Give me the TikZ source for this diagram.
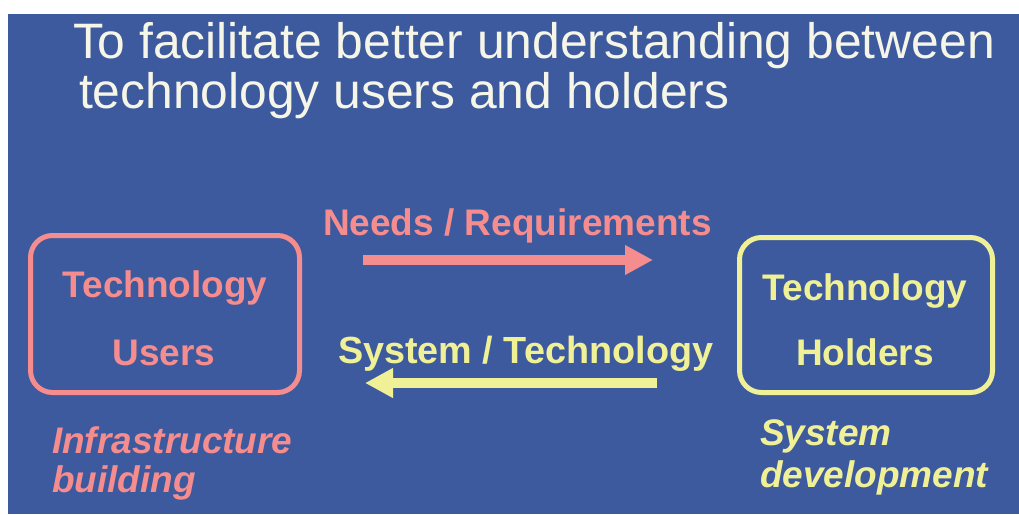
\documentclass[tikz,border=0pt]{standalone}
\usepackage{fontspec}
\setmainfont{Liberation Sans}
\usetikzlibrary{arrows.meta}
\definecolor{bgblue}{RGB}{62,90,158}
\definecolor{pinkc}{RGB}{245,140,142}
\definecolor{yelc}{RGB}{240,240,150}
\definecolor{titlec}{RGB}{246,246,232}
\begin{document}
\begin{tikzpicture}[x=1pt,y=1pt,
  titletext/.style={anchor=base west,inner sep=0pt,outer sep=0pt,text=titlec,font=\fontsize{49.8}{52}\selectfont},
  labeltext/.style={inner sep=0pt,outer sep=0pt,font=\bfseries\fontsize{37}{40}\selectfont},
  roletext/.style={anchor=base west,inner sep=0pt,outer sep=0pt,font=\bfseries\itshape\fontsize{37}{40}\selectfont},
  actor/.style={draw,line width=5pt,rounded corners=22pt,inner sep=0pt},
  flow/.style={line width=10pt,-{Triangle[length=28pt,width=28pt]}}]
\useasboundingbox (0,0) rectangle (1019,-514);
\fill[white] (0,0) rectangle (1019,-514);
\fill[bgblue] (8,-14) rectangle (1019,-514);
% title
\node[titletext] (title1) at (73,-58) {To facilitate better understanding between};
\node[titletext] (title2) at (79,-108) {technology users and holders};
% boxes
\node[actor,draw=pinkc,minimum width=269pt,minimum height=157pt] (users) at (165,-314) {};
\node[actor,draw=yelc,minimum width=253pt,minimum height=155pt] (holders) at (866,-315) {};
\node[labeltext,anchor=base,text=pinkc] (u1) at (165,-297) {Technology};
\node[labeltext,anchor=base,text=pinkc] (u2) at (164,-365) {Users};
\node[labeltext,anchor=base,text=yelc] (h1) at (865,-300) {Technology};
\node[labeltext,anchor=base,text=yelc] (h2) at (865,-365) {Holders};
% flows
\node[labeltext,anchor=base west,text=pinkc] (needs) at (323,-235) {Needs / Requirements};
\node[labeltext,anchor=base west,text=yelc,font=\bfseries\fontsize{37.8}{40}\selectfont] (system) at (338,-363) {System / Technology};
\coordinate (n0) at (363,-260);
\coordinate (n1) at (653,-260);
\coordinate (s0) at (657,-383);
\coordinate (s1) at (365,-383);
\draw[flow,draw=pinkc,color=pinkc] (n0) -- (n1);
\draw[flow,draw=yelc,color=yelc] (s0) -- (s1);
% roles
\node[roletext,text=pinkc] (infra1) at (52,-453) {Infrastructure};
\node[roletext,text=pinkc] (infra2) at (52,-492) {building};
\node[roletext,text=yelc] (dev1) at (760,-445) {System};
\node[roletext,text=yelc] (dev2) at (760,-487) {development};
\end{tikzpicture}
\end{document}
